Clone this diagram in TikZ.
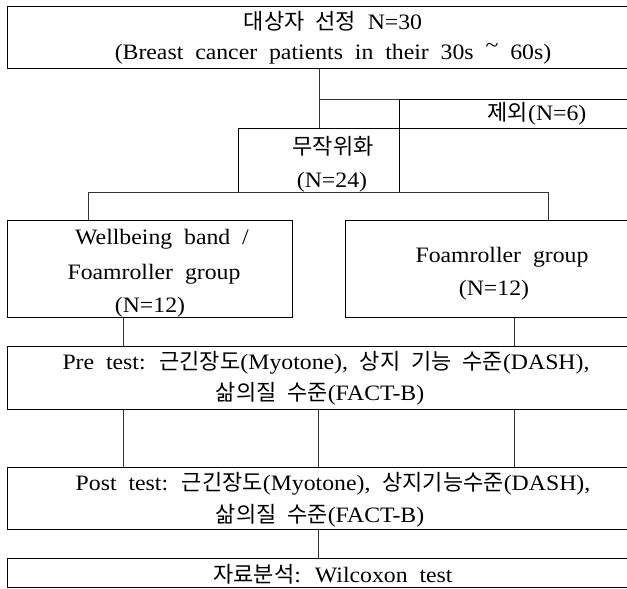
\documentclass[tikz,border=0pt]{standalone}
\usepackage{fontspec}
\setmainfont{Liberation Serif}[WordSpace=2.0, FakeStretch=1.08]
\newfontfamily\kr{Noto Sans CJK KR}[Scale=1.0, WordSpace=2.2]
\begin{document}
\begin{tikzpicture}[x=1pt,y=-1pt,
  box/.style={draw=black, line width=0.9pt, anchor=north west, inner sep=0pt},
  txt/.style={inner sep=0pt, font=\fontsize{22}{26}\selectfont, text height=16pt, text depth=2pt},
  link/.style={draw=black!80, line width=0.9pt}]
\useasboundingbox (0,0) rectangle (627,589);
\clip (0,0) rectangle (627,589);
% boxes
\node[box, minimum width=652pt, minimum height=62pt] (top) at (7,6) {};
\node[box, minimum width=161pt, minimum height=64pt] (rand) at (238,128) {};
\node[box, minimum width=300pt, minimum height=29pt] (excl) at (399,99) {};
\node[box, minimum width=285pt, minimum height=97pt] (g1) at (7,220) {};
\node[box, minimum width=355pt, minimum height=97pt] (g2) at (345,220) {};
\node[box, minimum width=693pt, minimum height=63pt] (pre) at (7,346) {};
\node[box, minimum width=693pt, minimum height=62pt] (post) at (7,467) {};
\node[box, minimum width=693pt, minimum height=29pt] (fin) at (7,558) {};
% helper coordinates
\coordinate (v1) at (123,0);
\coordinate (v2) at (318,0);
\coordinate (v3) at (514,0);
% connectors
\draw[link] (top.south -| rand.north) -- (rand.north);
\draw[link] (excl.north west) -- (excl.north west -| rand.north);
\draw[link] ([xshift=81pt]g1.north west) |- (rand.south) -| ([xshift=203pt]g2.north west);
\draw[link] (g1.south -| v1) -- (pre.north -| v1);
\draw[link] (g2.south -| v3) -- (pre.north -| v3);
\draw[link] (pre.south -| v1) -- (post.north -| v1);
\draw[link] (pre.south -| v2) -- (post.north -| v2);
\draw[link] (pre.south -| v3) -- (post.north -| v3);
\draw[link] (post.south -| v2) -- (fin.north -| v2);
% texts
\node[txt] (t1) at (333,22) {{\kr 대상자 선정} N=30};
\node[txt] (t2) at (333,52) {(Breast cancer patients in their 30s \raisebox{0.3em}{\textasciitilde} 60s)};
\node[txt] (t3) at (537,113) {{\kr 제외}(N=6)};
\node[txt] (t4) at (333,147) {\kr 무작위화};
\node[txt] (t5) at (332,180) {(N=24)};
\node[txt] (t6) at (162,237) {Wellbeing band /};
\node[txt] (t7) at (154,272) {Foamroller group};
\node[txt] (t8) at (150,305) {(N=12)};
\node[txt] (t9) at (502,255) {Foamroller group};
\node[txt] (t10) at (494,288) {(N=12)};
\node[txt] (t11) at (326,362) {Pre test: {\kr 근긴장도}(Myotone), {\kr 상지 기능 수준}(DASH),};
\node[txt] (t12) at (320,393) {{\kr 삶의질 수준}(FACT-B)};
\node[txt] (t13) at (333,483) {Post test: {\kr 근긴장도}(Myotone), {\kr 상지기능수준}(DASH),};
\node[txt] (t14) at (320,515) {{\kr 삶의질 수준}(FACT-B)};
\node[txt] (t15) at (333,575) {{\kr 자료분석}: Wilcoxon test};
\end{tikzpicture}
\end{document}
